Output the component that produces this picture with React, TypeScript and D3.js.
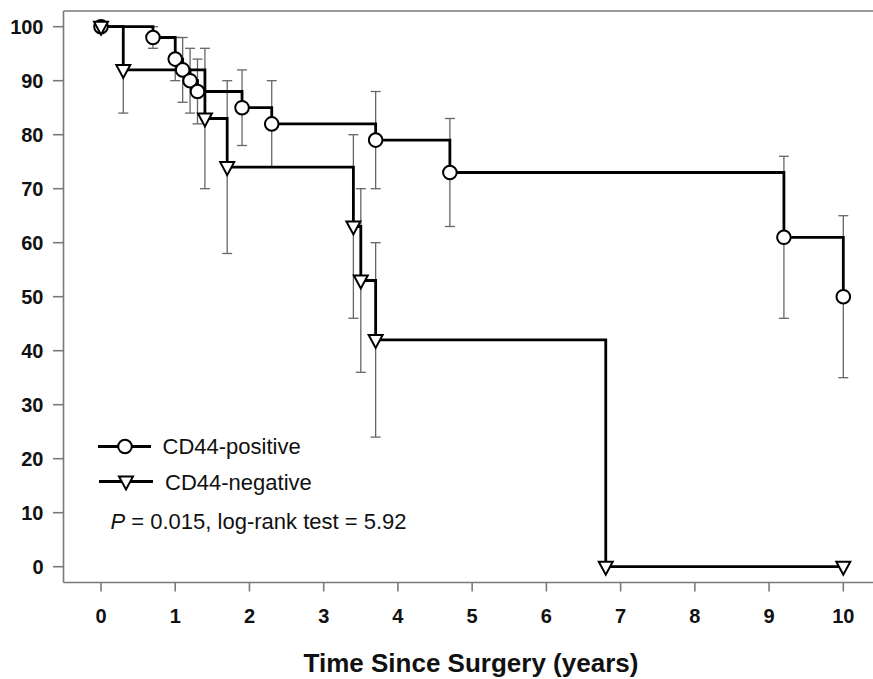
import React from "react";
import * as d3 from "d3";

const posTimes = [0, 0.7, 1.0, 1.1, 1.2, 1.3, 1.9, 2.3, 3.7, 4.7, 9.2, 10];
const posSurv = [100, 98, 94, 92, 90, 88, 85, 82, 79, 73, 61, 50];
const posLower = [null, 96, 90, 86, 84, 82, 78, 74, 70, 63, 46, 35];
const posUpper = [null, 100, 98, 98, 96, 94, 92, 90, 88, 83, 76, 65];

const negTimes = [0, 0.3, 1.4, 1.7, 3.4, 3.5, 3.7, 6.8, 10];
const negSurv = [100, 92, 83, 74, 63, 53, 42, 0, 0];
const negLower = [null, 84, 70, 58, 46, 36, 24, null, null];
const negUpper = [null, 100, 96, 90, 80, 70, 60, null, null];

const xTicks = [0, 1, 2, 3, 4, 5, 6, 7, 8, 9, 10];
const yTicks = [0, 10, 20, 30, 40, 50, 60, 70, 80, 90, 100];

const seriesNames = ["CD44-positive", "CD44-negative"];
const xTitle = "Time Since Surgery (years)";

const W = 873;
const H = 679;
const FONT = "'Liberation Sans', Arial, Helvetica, sans-serif";
const AXIS = "#7a7a7a";
const ERR = "#666";

const x = d3.scaleLinear().domain([0, 10]).range([101, 843.3]);
const y = d3.scaleLinear().domain([0, 100]).range([566.7, 26.7]);

const stepLine = d3
  .line<[number, number]>()
  .x((d) => x(d[0]))
  .y((d) => y(d[1]))
  .curve(d3.curveStepAfter);

function tri(cx: number, cy: number) {
  return `M${cx - 7},${cy - 5}L${cx + 7},${cy - 5}L${cx},${cy + 8}Z`;
}

function ErrorBars({ times, lower, upper }: { times: number[]; lower: (number | null)[]; upper: (number | null)[] }) {
  return (
    <g stroke={ERR} strokeWidth={1.3} fill="none">
      {times.map((t, i) => {
        const lo = lower[i];
        const hi = upper[i];
        if (lo == null || hi == null) return null;
        const cx = x(t);
        return (
          <g key={i}>
            <line x1={cx} x2={cx} y1={y(lo)} y2={y(hi)} />
            <line x1={cx - 5} x2={cx + 5} y1={y(lo)} y2={y(lo)} />
            <line x1={cx - 5} x2={cx + 5} y1={y(hi)} y2={y(hi)} />
          </g>
        );
      })}
    </g>
  );
}

export default function App() {
  const posPts = posTimes.map((t, i) => [t, posSurv[i]] as [number, number]);
  const negPts = negTimes.map((t, i) => [t, negSurv[i]] as [number, number]);
  const axisY = 582.5;
  const axisX = 63.5;
  return (
    <svg
      width={W}
      height={H}
      style={{ position: "absolute", left: 0, top: 0, background: "#fff" }}
      fontFamily={FONT}
    >
      <rect width={W} height={H} fill="#fff" />
      {/* frame */}
      <g stroke={AXIS} strokeWidth={1.6} fill="none">
        <line x1={axisX} x2={W} y1={11} y2={11} />
        <line x1={axisX} x2={axisX} y1={11} y2={axisY} />
        <line x1={axisX} x2={W} y1={axisY} y2={axisY} />
        {yTicks.map((v) => (
          <line key={v} x1={53} x2={axisX} y1={y(v)} y2={y(v)} />
        ))}
        {xTicks.map((v) => (
          <line key={v} x1={x(v)} x2={x(v)} y1={axisY} y2={axisY + 9} />
        ))}
      </g>
      <g fontWeight="bold" fontSize={20} fill="#111">
        {yTicks.map((v) => (
          <text key={v} x={43.5} y={y(v) + 7.3} textAnchor="end">
            {v}
          </text>
        ))}
        {xTicks.map((v) => (
          <text key={v} x={x(v)} y={622.7} textAnchor="middle">
            {v}
          </text>
        ))}
      </g>
      <text x={471} y={671.5} textAnchor="middle" fontWeight="bold" fontSize={26} fill="#111">
        {xTitle}
      </text>

      {/* error bars */}
      <ErrorBars times={posTimes} lower={posLower} upper={posUpper} />
      <ErrorBars times={negTimes} lower={negLower} upper={negUpper} />

      {/* steps */}
      <path d={stepLine(negPts) || ""} fill="none" stroke="#000" strokeWidth={2.8} />
      <path d={stepLine(posPts) || ""} fill="none" stroke="#000" strokeWidth={2.8} />

      {/* markers */}
      <g fill="#fff" stroke="#000" strokeWidth={2}>
        {posPts.map((p, i) => (
          <circle key={i} cx={x(p[0])} cy={y(p[1])} r={6.8} />
        ))}
        {negPts.map((p, i) => (
          <path key={i} d={tri(x(p[0]), y(p[1]))} />
        ))}
      </g>

      {/* legend */}
      <g>
        <line x1={98} x2={151} y1={446.5} y2={446.5} stroke="#000" strokeWidth={2.8} />
        <circle cx={125} cy={446.5} r={6.8} fill="#fff" stroke="#000" strokeWidth={2} />
        <text x={162.5} y={454} fontSize={22} fill="#111">
          {seriesNames[0]}
        </text>
        <line x1={99} x2={153} y1={481.5} y2={481.5} stroke="#000" strokeWidth={2.8} />
        <path d={tri(126, 481.5)} fill="#fff" stroke="#000" strokeWidth={2} />
        <text x={165} y={490} fontSize={22} fill="#111">
          {seriesNames[1]}
        </text>
        <text x={110.5} y={529.3} fontSize={22} fill="#111">
          <tspan fontStyle="italic">P</tspan>
          {" = 0.015, log-rank test = 5.92"}
        </text>
      </g>
    </svg>
  );
}
